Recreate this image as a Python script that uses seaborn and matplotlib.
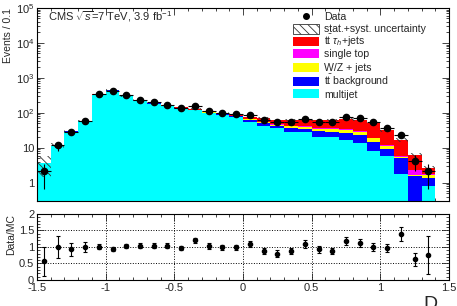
import numpy as np
import pandas as pd
import matplotlib
matplotlib.use("Agg")
import matplotlib.pyplot as plt
import seaborn as sns
from matplotlib.patches import Rectangle
from matplotlib.ticker import MultipleLocator, LogLocator, FixedLocator, FixedFormatter, NullFormatter

# ---- data ----
bin_centers = [-1.45, -1.35, -1.25, -1.15, -1.05, -0.95, -0.85, -0.75, -0.65, -0.55,
               -0.45, -0.35, -0.25, -0.15, -0.05, 0.05, 0.15, 0.25, 0.35, 0.45,
               0.55, 0.65, 0.75, 0.85, 0.95, 1.05, 1.15, 1.25, 1.35]
bin_edges = [-1.5, -1.4, -1.3, -1.2, -1.1, -1.0, -0.9, -0.8, -0.7, -0.6, -0.5,
             -0.4, -0.3, -0.2, -0.1, 0.0, 0.1, 0.2, 0.3, 0.4, 0.5, 0.6, 0.7,
             0.8, 0.9, 1.0, 1.1, 1.2, 1.3, 1.4]

data = [2.1, 11.7, 28, 60, 340, 420, 316, 238, 200, 170, 138, 155, 112, 100, 92,
        87, 64, 55, 55, 67, 56, 55, 75, 69, 54, 36, 24, 4.3, 2.1]

multijet = [3.6, 11.3, 29, 57, 330, 435, 294, 220, 183, 154, 132, 118, 97, 87, 74,
            55, 42, 37, 29, 27.5, 20, 20, 17, 14, 8.3, 5.7, 1.8, 0, 0.8]
tt_bkg = [0.05, 0.1, 0.3, 0.6, 2.5, 4, 4, 3.5, 3.5, 3.5, 4, 4, 4.5, 5, 6,
          8, 8, 6, 8, 8, 10, 9, 9, 10, 6, 3.6, 3.4, 1.55, 0.55]
wz_jets = [0.02, 0.05, 0.1, 0.3, 1, 1.5, 1.5, 1.5, 1.5, 1.5, 1.5, 1.5, 1.5, 1.5, 2,
           3, 3, 3, 4, 4.5, 5, 5, 6, 4, 4.5, 1.6, 0.3, 0.15, 0.35]
single_top = [0.02, 0.05, 0.1, 0.2, 0.5, 0.8, 0.8, 0.8, 0.8, 0.8, 0.9, 1, 1, 1, 1,
              1.5, 1.5, 1.5, 1.5, 2, 2, 2, 2, 2.5, 0.5, 0.8, 0.5, 0.55, 0.1]
signal = [0.05, 0.1, 0.4, 1, 3, 5, 4, 3.5, 3.5, 3.5, 4, 4.5, 5, 6, 7,
          11, 15, 16, 20, 22, 25, 25, 32, 32, 32, 20, 11, 3.8, 0.9]
unc_rel = [0.6, 0.15, 0.1, 0.08, 0.05, 0.05, 0.05, 0.05, 0.05, 0.05, 0.05, 0.05, 0.05,
           0.05, 0.05, 0.06, 0.06, 0.06, 0.06, 0.07, 0.07, 0.07, 0.08, 0.08, 0.08,
           0.1, 0.12, 0.15, 0.15]

ratio = [0.56, 1.01, 0.93, 1.01, 1.01, 0.94, 1.04, 1.04, 1.04, 1.04, 0.97, 1.2, 1.03,
         0.99, 0.99, 1.09, 0.88, 0.8, 0.88, 1.08, 0.93, 0.88, 1.17, 1.13, 1.01, 0.98,
         1.39, 0.63, 0.76]
ratio_err = [0.43, 0.33, 0.2, 0.15, 0.08, 0.05, 0.06, 0.07, 0.07, 0.07, 0.07, 0.08, 0.08,
             0.08, 0.08, 0.1, 0.1, 0.1, 0.1, 0.12, 0.1, 0.1, 0.12, 0.12, 0.12, 0.12,
             0.22, 0.2, 0.57]

processes = ["signal", "single top", "W/Z + jets", "tt background", "multijet"]
labels = [r"t$\bar{\mathrm{t}}$ $\tau_{h}$+jets", "single top", "W/Z + jets",
          r"t$\bar{\mathrm{t}}$ background", "multijet"]
colors = ["#ff0000", "#ff00ff", "#ffff00", "#0000ff", "#00ffff"]

sns.set_style("ticks")
plt.rcParams["font.family"] = ["Liberation Sans", "DejaVu Sans"]
plt.rcParams["mathtext.fontset"] = "custom"
plt.rcParams["mathtext.rm"] = "Liberation Sans"
plt.rcParams["mathtext.it"] = "Liberation Sans:italic"
plt.rcParams["hatch.linewidth"] = 0.6

df = pd.DataFrame({
    "D": np.tile(bin_centers, len(processes)),
    "events": np.concatenate([signal, single_top, wz_jets, tt_bkg, multijet]),
    "process": np.repeat(processes, len(bin_centers)),
})

fig = plt.figure(figsize=(4.57, 3.06), dpi=100)
ax = fig.add_axes([0.081, 0.343, 0.9015, 0.631])
ax2 = fig.add_axes([0.081, 0.085, 0.9015, 0.216])

ax.set_yscale("log")
sns.histplot(data=df, x="D", weights="events", hue="process", hue_order=processes,
             multiple="stack", bins=bin_edges, palette=colors, alpha=1,
             element="step", linewidth=0, legend=False, ax=ax)

total = np.array(multijet) + np.array(tt_bkg) + np.array(wz_jets) + np.array(single_top) + np.array(signal)
err = total * np.array(unc_rel)
ax.bar(bin_centers, 2 * err, bottom=total - err, width=0.1, fill=False,
       hatch="\\\\\\\\", edgecolor="#333333", linewidth=0)

ax.errorbar(bin_centers, data, xerr=0.05, yerr=np.sqrt(data), fmt="o", ms=4.5,
            color="black", elinewidth=0.8, capsize=0)

ax.set_xlim(-1.5, 1.5)
ax.set_ylim(0.3, 1e5)
ax.set_xlabel("")
ax.set_ylabel("Events / 0.1", fontsize=7.5, loc="top", labelpad=2)
ax.yaxis.set_major_locator(FixedLocator([1, 10, 100, 1e3, 1e4, 1e5]))
ax.yaxis.set_major_formatter(FixedFormatter(["1", "10", "$10^{2}$", "$10^{3}$", "$10^{4}$", "$10^{5}$"]))
ax.yaxis.set_minor_locator(LogLocator(subs=np.arange(2, 10)))
ax.yaxis.set_minor_formatter(NullFormatter())
ax.xaxis.set_major_locator(MultipleLocator(0.5))
ax.xaxis.set_minor_locator(MultipleLocator(0.1))
ax.xaxis.set_major_formatter(NullFormatter())

ax.text(0.027, 0.953, r"CMS $\sqrt{s}$=7 TeV, 3.9 fb$^{-1}$", transform=ax.transAxes,
        fontsize=8, va="center", ha="left")

# legend, laid out by hand (ROOT style, fixed row pitch)
def ay(ypix):
    return 1 - (ypix - 8) / 193.0

sw_x, sw_w, sw_h, txt_x = 0.621, 0.063, 0.047, 0.697
fs_leg = 7.6
base_off = 3.8   # px from row centre down to text baseline
ax.plot([sw_x + sw_w / 2], [ay(16)], "o", color="black", ms=4, transform=ax.transAxes)
ax.text(txt_x, ay(16 + base_off), "Data", transform=ax.transAxes, fontsize=fs_leg, va="baseline")
ax.add_patch(Rectangle((sw_x, ay(29) - sw_h / 2), sw_w, sw_h, transform=ax.transAxes,
                       facecolor="white", edgecolor="#333333", hatch="\\\\\\\\", linewidth=0.6))
ax.text(txt_x, ay(28.5 + base_off), "stat.+syst. uncertainty", transform=ax.transAxes,
        fontsize=fs_leg, va="baseline")
for lab, col, yp in zip(labels, colors, [41.7, 53.3, 67.5, 81.7, 93.8]):
    ax.add_patch(Rectangle((sw_x, ay(yp) - sw_h / 2), sw_w, sw_h, transform=ax.transAxes,
                           facecolor=col, edgecolor="none"))
    ax.text(txt_x, ay(yp + base_off), lab, transform=ax.transAxes, fontsize=fs_leg, va="baseline")

# ratio panel
ax2.errorbar(bin_centers, ratio, yerr=ratio_err, fmt="o", ms=3, color="black",
             elinewidth=0.8, capsize=1.5, capthick=0.8)
ax2.set_xlim(-1.5, 1.5)
ax2.set_ylim(0, 2)
ax2.set_ylabel("Data/MC", fontsize=7.5, loc="top", labelpad=2)
ax2.xaxis.set_major_locator(FixedLocator([-1.5, -1, -0.5, 0, 0.5, 1, 1.5]))
ax2.xaxis.set_major_formatter(FixedFormatter(["-1.5", "-1", "-0.5", "0", "0.5", "1", "1.5"]))
ax2.xaxis.set_minor_locator(MultipleLocator(0.1))
ax2.yaxis.set_major_locator(FixedLocator([0, 0.5, 1, 1.5, 2]))
ax2.yaxis.set_major_formatter(FixedFormatter(["0", "0.5", "1", "1.5", "2"]))
ax2.yaxis.set_minor_locator(MultipleLocator(0.1))
ax2.grid(True, which="major", linestyle=":", color="black", linewidth=0.7)

for a in (ax, ax2):
    a.tick_params(which="both", direction="in", top=True, right=True, labelsize=8, width=0.6)
    a.tick_params(which="major", length=5, pad=2)
    a.tick_params(which="minor", length=2.5)
    for s in a.spines.values():
        s.set_linewidth(0.8)
        s.set_color("black")

fig.text(423 / 457, 1 - 296 / 306, "D", fontsize=14, ha="left", va="top")

fig.savefig("out.png", dpi=100)
